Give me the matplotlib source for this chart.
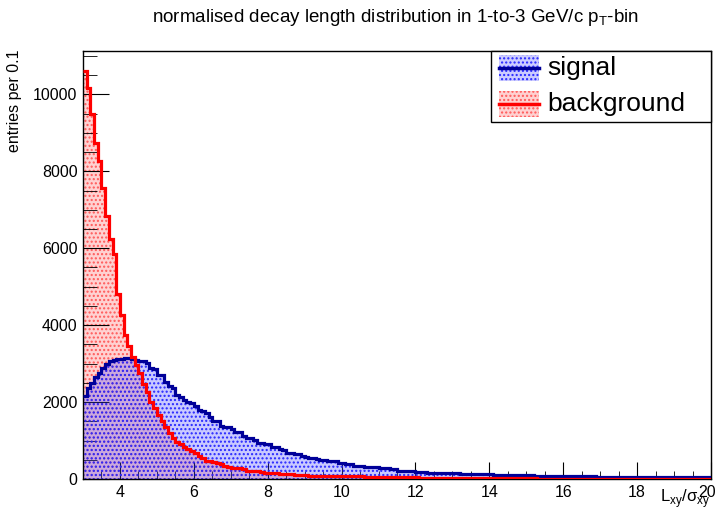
import numpy as np
import matplotlib
matplotlib.use("Agg")
import matplotlib.pyplot as plt
from matplotlib.patches import Rectangle
from matplotlib.lines import Line2D
from matplotlib.ticker import MultipleLocator, FuncFormatter

plt.rcParams['font.family'] = ['Liberation Sans', 'DejaVu Sans']
plt.rcParams['hatch.linewidth'] = 1.0

W, H = 717, 520

# binning: 0.1 wide bins from 3 to 20
edges = np.round(np.arange(3.0, 20.0001, 0.1), 1)

# background (entries per bin)
bkg = [
    10600, 10170, 9500, 8750, 8260, 7580, 6830, 6250, 5850, 4820,   # 3.0-3.9
    4260, 3740, 3455, 3180, 2960, 2750, 2470, 2270, 2010, 1840,     # 4.0-4.9
    1660, 1515, 1360, 1190, 1065, 970, 900, 840, 790, 740,          # 5.0-5.9
    680, 600, 535, 480, 470, 430, 420, 390, 330, 315,               # 6.0-6.9
    285, 280, 275, 270, 220, 215, 210, 205, 170, 165,               # 7.0-7.9
    165, 160, 155, 135, 130, 125, 120, 100, 98, 95,                 # 8.0-8.9
    92, 90, 88, 85, 82, 88, 85, 83, 80, 78,                         # 9.0-9.9
    76, 74, 72, 70, 68, 66, 64, 62, 60, 58,                         # 10.x
    56, 54, 52, 50, 48, 47, 45, 44, 42, 41,                         # 11.x
    40, 38, 37, 36, 35, 33, 32, 31, 30, 29,                         # 12.x
    28, 27, 26, 25, 25, 24, 23, 22, 22, 21,                         # 13.x
    20, 20, 19, 18, 18, 17, 17, 16, 16, 15,                         # 14.x
    15, 14, 14, 13, 13, 13, 12, 12, 11, 11,                         # 15.x
    11, 10, 10, 10, 9, 9, 9, 9, 8, 8,                               # 16.x
    8, 8, 7, 7, 7, 7, 6, 6, 6, 6,                                   # 17.x
    6, 6, 5, 5, 5, 5, 5, 5, 4, 4,                                   # 18.x
    4, 4, 4, 4, 4, 3, 3, 3, 3, 3,                                   # 19.x
]

# signal
sig = [
    2160, 2360, 2490, 2640, 2760, 2880, 2990, 3080, 3090, 3130,     # 3.x
    3110, 3150, 3150, 3120, 3090, 3065, 3060, 3020, 2880, 2850,     # 4.x
    2700, 2700, 2530, 2420, 2360, 2180, 2120, 2060, 2010, 1980,     # 5.x
    1900, 1790, 1780, 1720, 1600, 1520, 1510, 1370, 1360, 1350,     # 6.x
    1290, 1235, 1225, 1115, 1065, 1055, 1010, 935, 925, 920,        # 7.x
    915, 845, 835, 775, 765, 670, 665, 660, 655, 600,               # 8.x
    560, 555, 550, 510, 505, 500, 465, 470, 465, 425,               # 9.x
    420, 390, 385, 350, 345, 340, 325, 320, 318, 315,               # 10.x
    285, 280, 275, 250, 248, 220, 215, 212, 210, 205,               # 11.x
    190, 188, 185, 168, 165, 163, 160, 158, 155, 150,               # 12.x
    148, 145, 140, 138, 135, 130, 128, 125, 122, 120,               # 13.x
    118, 115, 112, 110, 108, 105, 103, 100, 98, 96,                 # 14.x
    94, 92, 90, 88, 86, 85, 83, 82, 80, 79,                         # 15.x
    78, 76, 75, 73, 72, 70, 69, 68, 66, 65,                         # 16.x
    64, 63, 62, 61, 60, 59, 58, 57, 56, 55,                         # 17.x
    54, 53, 52, 52, 51, 50, 49, 48, 48, 47,                         # 18.x
    46, 46, 45, 44, 44, 43, 42, 42, 41, 40,                         # 19.x
]

sig_line = '#000099'
bkg_line = '#ff0000'
sig_face = (0.3, 0.3, 1.0, 0.3)
sig_dots = (0.15, 0.15, 1.0)
bkg_face = (1.0, 0.82, 0.82)
bkg_dots = (1.0, 0.35, 0.35)

fig = plt.figure(figsize=(W / 100, H / 100), dpi=100)
ax = fig.add_axes([83 / W, 41 / H, 628 / W, 428 / H])

# fills (dotted like ROOT fill style), background first, signal over it
ax.stairs(bkg, edges, fill=True, facecolor=bkg_face, edgecolor=bkg_dots,
          hatch='....', linewidth=0, zorder=1)
ax.stairs(sig, edges, fill=True, facecolor=sig_face, edgecolor=sig_dots,
          hatch='....', linewidth=0, zorder=2)
# outlines
ax.stairs(sig, edges, baseline=None, color=sig_line, linewidth=2.3, zorder=3)
ax.stairs(bkg, edges, baseline=None, color=bkg_line, linewidth=2.3, zorder=4)

xmax = edges[-1]
ax.set_xlim(edges[0], xmax)
ax.set_ylim(0, 1.05 * max(bkg))

ax.xaxis.set_major_locator(MultipleLocator(2))
ax.xaxis.set_minor_locator(MultipleLocator(0.5))
ax.yaxis.set_major_locator(MultipleLocator(2000))
ax.yaxis.set_minor_locator(MultipleLocator(500))
# last x label is drawn separately, nudged inside the canvas like ROOT does
ax.xaxis.set_major_formatter(FuncFormatter(lambda v, p: '' if abs(v - xmax) < 1e-6 else f'{v:g}'))
ax.tick_params(which='both', direction='in', top=False, right=False, labelsize=11.5, pad=4)
ax.tick_params(axis='x', which='major', length=12)
ax.tick_params(axis='x', which='minor', length=6)
ax.tick_params(axis='y', which='major', length=19)
ax.tick_params(axis='y', which='minor', length=10)
for s in ax.spines.values():
    s.set_linewidth(1.0)
ax.annotate(f'{xmax:g}', xy=(xmax, 0), xycoords=('data', 'axes fraction'),
            xytext=(-3, -4), textcoords='offset points', ha='center', va='top',
            fontsize=11.5, annotation_clip=False)

fig.text(15 / W, 1 - 50 / H, 'entries per 0.1', rotation=90, ha='center', va='top', fontsize=11.5)
fig.text(710 / W, 1 - 487 / H, r'L$_{\mathregular{xy}}$/σ$_{\mathregular{xy}}$',
         ha='right', va='top', fontsize=12)
fig.text(395 / W, 1 - 17 / H,
         r'normalised decay length distribution in 1-to-3 GeV/c p$_{\mathregular{T}}$-bin',
         ha='center', va='center', fontsize=13.5)


# legend drawn by hand, box in figure pixels (from top-left)
def fx(px):
    return px / W


def fy(py):
    return 1 - py / H


fig.add_artist(Rectangle((fx(491), fy(122)), fx(711) - fx(491), fy(51) - fy(122),
                         transform=fig.transFigure, facecolor='white', edgecolor='black',
                         linewidth=1.0, zorder=20))
entries = [('signal', 68, sig_dots, sig_line, (0.8, 0.8, 1.0)),
           ('background', 104, bkg_dots, bkg_line, bkg_face)]
for label, yc, dots, lc, solid in entries:
    fig.add_artist(Rectangle((fx(499), fy(yc + 13)), fx(539) - fx(499), fy(yc - 13) - fy(yc + 13),
                             transform=fig.transFigure, facecolor=solid, edgecolor=dots,
                             hatch='....', linewidth=0, zorder=21))
    fig.add_artist(Line2D([fx(499), fx(539)], [fy(yc), fy(yc)], transform=fig.transFigure,
                          color=lc, linewidth=2.5, zorder=22))
    fig.text(fx(547), fy(yc), label, ha='left', va='center', fontsize=19, zorder=23)

fig.savefig('out.png', dpi=100)
